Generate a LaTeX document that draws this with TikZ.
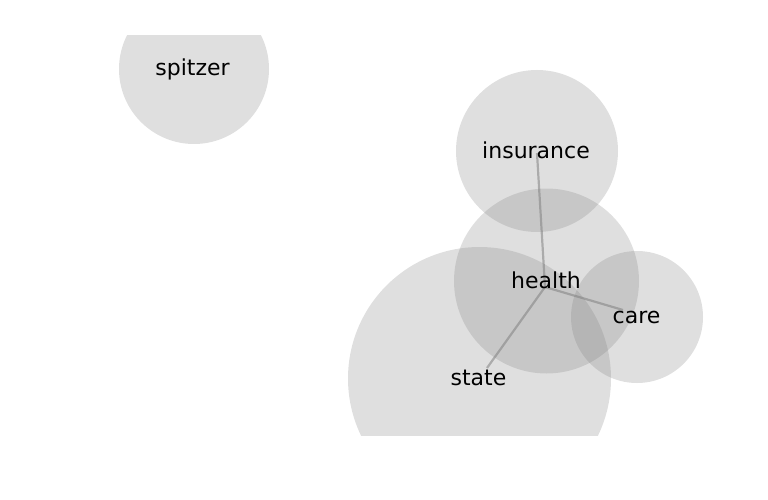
\documentclass[tikz,border=0pt]{standalone}
\usepackage{fontspec}
\setmainfont{DejaVu Sans}
\usetikzlibrary{calc}

\begin{document}
\begin{tikzpicture}[x=1pt,y=-1pt,
    bubble/.style={fill=gray,fill opacity=0.25},
    link/.style={draw=gray,draw opacity=0.55,line width=2.2pt},
    word/.style={anchor=base,inner sep=0pt,font=\fontsize{22}{26}\selectfont}]
  \useasboundingbox (0,0) rectangle (768,500);
  \begin{scope}
    \clip (0,36) rectangle (768,435);

    % word bubbles
    \fill[bubble] (194,69) circle[radius=75pt];
    \fill[bubble] (537,151) circle[radius=81pt];
    \fill[bubble] (546.5,281) circle[radius=92.5pt];
    \fill[bubble] (637,317) circle[radius=66pt];
    \fill[bubble] (479.5,378.5) circle[radius=131.5pt];

    % links from the hub
    \coordinate (hub) at (545,287);
    \coordinate (ins-end) at (537,153);
    \coordinate (care-end) at (623,310);
    \coordinate (state-end) at (487,368);
    \foreach \e in {ins-end,care-end,state-end}
      \draw[link] (hub) -- (\e);

    % labels
    \node[word] (spitzer) at (192.5,76) {spitzer};
    \node[word] (insurance) at (536,158.3) {insurance};
    \node[word] (health) at (546,288.3) {health};
    \node[word] (care) at (636.5,323.3) {care};
    \node[word] (state) at (478.5,385) {state};
  \end{scope}
\end{tikzpicture}
\end{document}
